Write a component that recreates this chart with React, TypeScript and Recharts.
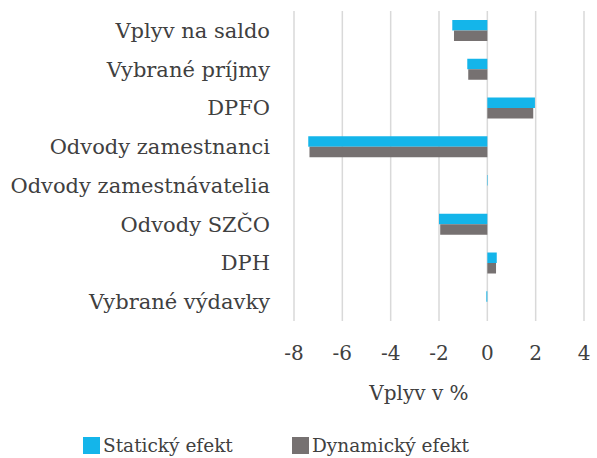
import { Bar, BarChart, CartesianGrid, Legend, XAxis, YAxis } from "recharts";

const categories = [
  "Vplyv na saldo",
  "Vybrané príjmy",
  "DPFO",
  "Odvody zamestnanci",
  "Odvody zamestnávatelia",
  "Odvody SZČO",
  "DPH",
  "Vybrané výdavky",
];
const staticEffect = [-1.45, -0.83, 1.97, -7.41, 0.02, -2.0, 0.39, -0.04];
const dynamicEffect = [-1.38, -0.79, 1.9, -7.36, 0.0, -1.95, 0.36, 0.0];
const xTicks = [-8, -6, -4, -2, 0, 2, 4];

const data = categories.map((name, i) => ({
  name,
  staticEffect: staticEffect[i],
  dynamicEffect: dynamicEffect[i],
}));

const FONT = "DejaVu Serif";
const TEXT = "#404040";
const BLUE = "#14B5EA";
const GRAY = "#767171";

function LegendContent() {
  const items = [
    { label: "Statický efekt", color: BLUE, left: 83 },
    { label: "Dynamický efekt", color: GRAY, left: 292 },
  ];
  return (
    <div style={{ position: "relative", height: 30, fontFamily: FONT, fontSize: 18.5, color: TEXT }}>
      {items.map((it) => (
        <div
          key={it.label}
          style={{ position: "absolute", left: it.left, top: 2, height: 30, display: "flex", alignItems: "center" }}
        >
          <span style={{ width: 17, height: 17, background: it.color, marginRight: 3, display: "inline-block" }} />
          <span>{it.label}</span>
        </div>
      ))}
    </div>
  );
}

export default function App() {
  return (
    <div style={{ position: "absolute", left: 0, top: 0, background: "#fff" }}>
      <BarChart
        width={597}
        height={458}
        data={data}
        layout="vertical"
        margin={{ top: 11, right: 13, bottom: 0, left: 0 }}
        barGap={0}
        barSize={10.5}
      >
        <CartesianGrid stroke="#d9d9d9" strokeWidth={1.5} horizontal={false} />
        <XAxis
          type="number"
          domain={[-8, 4]}
          ticks={xTicks}
          axisLine={false}
          tickLine={false}
          tickSize={0}
          tickMargin={25}
          height={107}
          tick={{ fill: TEXT, fontSize: 20, fontFamily: FONT }}
          label={{
            value: "Vplyv v %",
            position: "insideBottom",
            offset: 28,
            dx: -20,
            fill: TEXT,
            fontSize: 20,
            fontFamily: FONT,
          }}
        />
        <YAxis
          type="category"
          dataKey="name"
          width={294}
          axisLine={false}
          tickLine={false}
          tickSize={0}
          tickMargin={24}
          interval={0}
          tick={{ fill: TEXT, fontSize: 21, fontFamily: FONT }}
        />
        <Legend verticalAlign="bottom" content={<LegendContent />} />
        <Bar dataKey="staticEffect" name="Statický efekt" fill={BLUE} isAnimationActive={false} />
        <Bar dataKey="dynamicEffect" name="Dynamický efekt" fill={GRAY} isAnimationActive={false} />
      </BarChart>
    </div>
  );
}
